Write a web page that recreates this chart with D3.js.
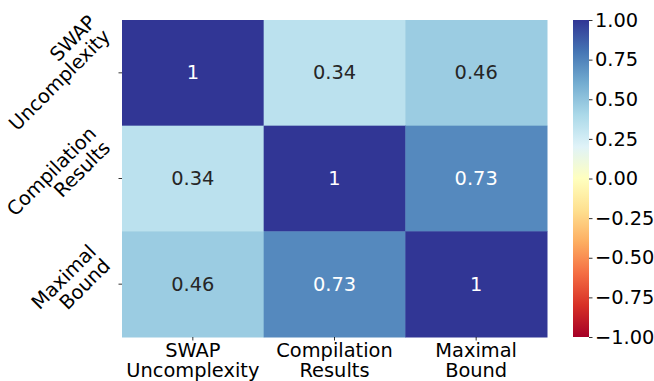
<!DOCTYPE html>
<html>
<head>
<meta charset="utf-8">
<script src="https://cdn.jsdelivr.net/npm/d3@7"></script>
<style>
  html, body { margin: 0; padding: 0; background: #fff; }
  svg { display: block; font-family: "DejaVu Sans", sans-serif; }
</style>
</head>
<body>
<svg id="chart" width="654" height="381"></svg>
<script>
// Correlation matrix between the three metrics
const labels = [["SWAP", "Uncomplexity"], ["Compilation", "Results"], ["Maximal", "Bound"]];
const keys = ["swap", "compilation", "maximal"];
const corrSwap = [1, 0.34, 0.46];
const corrCompilation = [0.34, 1, 0.73];
const corrMaximal = [0.46, 0.73, 1];
const colorbarTicks = [1, 0.75, 0.5, 0.25, 0, -0.25, -0.5, -0.75, -1];

const matrix = [corrSwap, corrCompilation, corrMaximal];

const svg = d3.select("#chart");
const fontSize = 19.4;
const lineGap = 20;

const plot = { left: 122, right: 547, top: 20, bottom: 337 };
const cbar = { left: 573, right: 589, top: 20, bottom: 337 };

// Diverging palette (RdYlBu), linear between anchor colours over [-1, 1]
const rdylbu = ["#a50026", "#d73027", "#f46d43", "#fdae61", "#fee090", "#ffffbf",
                "#e0f3f8", "#abd9e9", "#74add1", "#4575b4", "#313695"];
const color = d3.scaleLinear()
  .domain(d3.range(rdylbu.length).map(i => -1 + 2 * i / (rdylbu.length - 1)))
  .range(rdylbu)
  .interpolate(d3.interpolateRgb);

const x = d3.scaleBand().domain(keys).range([plot.left, plot.right]).padding(0);
const y = d3.scaleBand().domain(keys).range([plot.top, plot.bottom]).padding(0);

const cells = [];
matrix.forEach((row, i) => row.forEach((v, j) => cells.push({ r: keys[i], c: keys[j], v })));

svg.append("g").selectAll("rect").data(cells).join("rect")
  .attr("x", d => x(d.c))
  .attr("y", d => y(d.r))
  .attr("width", x.bandwidth() + 0.5)
  .attr("height", y.bandwidth() + 0.5)
  .attr("fill", d => color(d.v));

function textColor(c) {
  const rgb = d3.rgb(c);
  const lin = v => { v /= 255; return v <= 0.03928 ? v / 12.92 : Math.pow((v + 0.055) / 1.055, 2.4); };
  const lum = 0.2126 * lin(rgb.r) + 0.7152 * lin(rgb.g) + 0.0722 * lin(rgb.b);
  return lum > 0.408 ? "#262626" : "#ffffff";
}

svg.append("g").selectAll("text").data(cells).join("text")
  .attr("x", d => x(d.c) + x.bandwidth() / 2)
  .attr("y", d => y(d.r) + y.bandwidth() / 2)
  .attr("text-anchor", "middle")
  .attr("dominant-baseline", "central")
  .attr("font-size", fontSize)
  .attr("fill", d => textColor(color(d.v)))
  .text(d => d3.format("")(d.v));

// X axis: ticks and two-line labels
const xAxis = svg.append("g").attr("transform", `translate(0,${plot.bottom})`);
keys.forEach((k, i) => {
  const cx = x(k) + x.bandwidth() / 2;
  xAxis.append("line").attr("x1", cx).attr("x2", cx).attr("y1", 0).attr("y2", 3.5)
    .attr("stroke", "#000").attr("stroke-width", 0.8);
  const t = xAxis.append("text").attr("x", cx).attr("y", 19.7)
    .attr("text-anchor", "middle").attr("font-size", fontSize).attr("fill", "#000");
  labels[i].forEach((line, li) => {
    t.append("tspan").attr("x", cx).attr("dy", li === 0 ? 0 : lineGap).text(line);
  });
});

// Y axis: ticks and rotated two-line labels
const yAxis = svg.append("g");
keys.forEach((k, i) => {
  const cy = y(k) + y.bandwidth() / 2;
  yAxis.append("line").attr("x1", plot.left - 3.5).attr("x2", plot.left).attr("y1", cy).attr("y2", cy)
    .attr("stroke", "#000").attr("stroke-width", 0.8);
  const g = yAxis.append("g");
  const inner = g.append("g").attr("transform", "rotate(-45)");
  const t = inner.append("text").attr("text-anchor", "end").attr("font-size", fontSize).attr("fill", "#000");
  labels[i].forEach((line, li) => {
    t.append("tspan").attr("x", 0).attr("dy", li === 0 ? 0 : lineGap).text(line);
  });
  // align the rotated block: right edge near the tick, vertically centred on it
  const bb = g.node().getBoundingClientRect();
  const targetRight = plot.left - 7;
  const dx = targetRight - bb.right;
  const dy = cy - (bb.top + bb.bottom) / 2;
  g.attr("transform", `translate(${dx},${dy})`);
});

// Colour bar
const defs = svg.append("defs");
const grad = defs.append("linearGradient").attr("id", "cbar-grad")
  .attr("x1", 0).attr("y1", 1).attr("x2", 0).attr("y2", 0);
d3.range(0, 1.0001, 0.05).forEach(t => {
  grad.append("stop").attr("offset", t).attr("stop-color", color(-1 + 2 * t));
});
svg.append("rect")
  .attr("x", cbar.left).attr("y", cbar.top)
  .attr("width", cbar.right - cbar.left).attr("height", cbar.bottom - cbar.top)
  .attr("fill", "url(#cbar-grad)");

const cy = d3.scaleLinear().domain([-1, 1]).range([cbar.bottom, cbar.top]);
const cAxis = d3.axisRight(cy).tickValues(colorbarTicks).tickSize(3.5).tickPadding(2.5)
  .tickFormat(d => d3.format(".2f")(d).replace("-", "\u2212"));
const cg = svg.append("g").attr("transform", `translate(${cbar.right},0)`).call(cAxis);
cg.select(".domain").remove();
cg.selectAll(".tick line").attr("stroke", "#000").attr("stroke-width", 0.8);
cg.selectAll(".tick text").attr("font-size", fontSize).attr("fill", "#000")
  .attr("font-family", "DejaVu Sans, sans-serif");
</script>
</body>
</html>
